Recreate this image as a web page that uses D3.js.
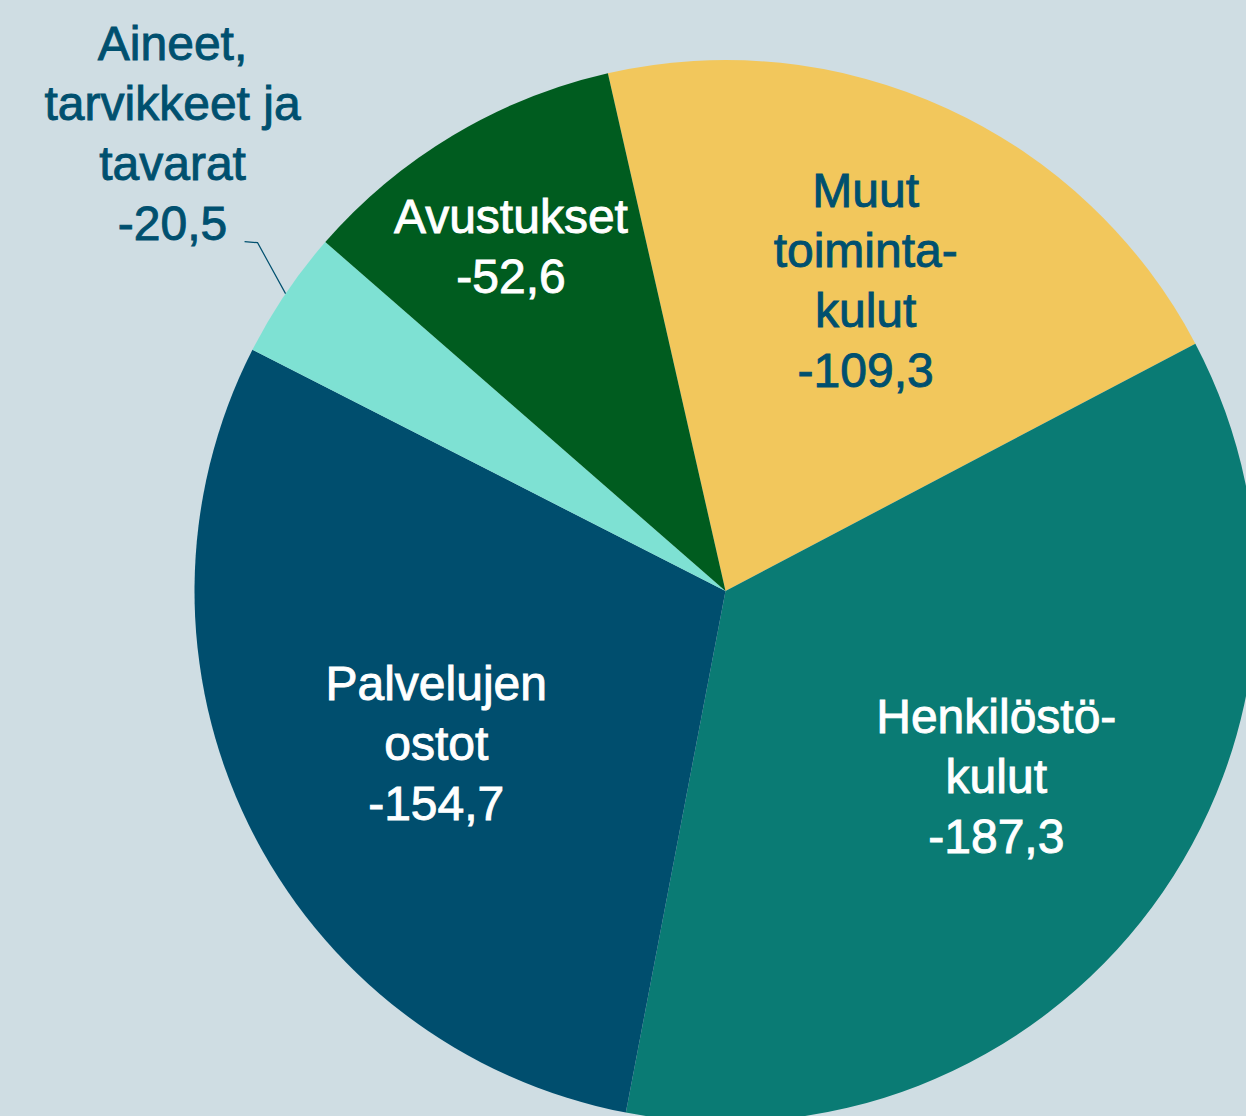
<!DOCTYPE html>
<html>
<head>
<meta charset="utf-8">
<script src="https://cdn.jsdelivr.net/npm/d3@7"></script>
<style>
  html, body { margin: 0; padding: 0; background: #cfdde3; }
  svg { display: block; }
</style>
</head>
<body>
<div id="chart"></div>
<script>
// data, clockwise from the top
var categories = ['Muut toimintakulut', 'Henkilöstökulut', 'Palvelujen ostot', 'Aineet, tarvikkeet ja tavarat', 'Avustukset'];
var values = [-109.3, -187.3, -154.7, -20.5, -52.6];
var labelLines = [
  ['Muut', 'toiminta-', 'kulut'],
  ['Henkilöstö-', 'kulut'],
  ['Palvelujen', 'ostot'],
  ['Aineet,', 'tarvikkeet ja', 'tavarat'],
  ['Avustukset']
];

var width = 1246;
var height = 1116;
var cx = 725.5;
var cy = 591;
var radius = 531;
var lineHeight = 60;

var colors = ['#f2c75c', '#0a7b74', '#004e6e', '#7ee1d3', '#005c1f'];
var textColors = ['#00506f', '#ffffff', '#ffffff', '#00506f', '#ffffff'];
// distance of each inside label from the centre, plus a small nudge
var labelRadius = [340, 337, 331, 0, 393];
var labelNudge = [[-2, -2], [0, -16], [8, 6], [0, 0], [-13, -8]];

var fmt = function(v) { return String(v.toFixed(1)).replace('.', ','); };

var svg = d3.select('#chart')
  .append('svg')
  .attr('width', width)
  .attr('height', height);

svg.append('rect')
  .attr('width', width)
  .attr('height', height)
  .attr('fill', '#cfdde3');

var g = svg.append('g')
  .attr('transform', 'translate(' + cx + ',' + cy + ')');

var startA = -12.8 * Math.PI / 180;

var pie = d3.pie()
  .value(function(d) { return Math.abs(d); })
  .sort(null)
  .startAngle(startA)
  .endAngle(startA + 2 * Math.PI);

var arcs = pie(values);

var arc = d3.arc()
  .innerRadius(0)
  .outerRadius(radius);

g.selectAll('path')
  .data(arcs)
  .enter()
  .append('path')
  .attr('d', arc)
  .attr('fill', function(d, i) { return colors[i]; });

function drawLabel(x, y, lines, color) {
  // x, y = centre of the text block
  var n = lines.length;
  var firstBase = y - (n - 1) * lineHeight / 2 + 17;
  var t = g.append('text')
    .attr('text-anchor', 'middle')
    .attr('font-family', '"Liberation Sans", Arial, sans-serif')
    .attr('font-size', 48)
    .attr('fill', color)
    .attr('stroke', color)
    .attr('stroke-width', 0.9);
  lines.forEach(function(l, k) {
    t.append('tspan')
      .attr('x', x)
      .attr('y', firstBase + k * lineHeight)
      .text(l);
  });
}

arcs.forEach(function(d, i) {
  var lines = labelLines[i].concat([fmt(values[i])]);
  if (labelRadius[i] > 0) {
    var c = d3.arc().innerRadius(labelRadius[i]).outerRadius(labelRadius[i]).centroid(d);
    drawLabel(c[0] + labelNudge[i][0], c[1] + labelNudge[i][1], lines, textColors[i]);
  } else {
    // small slice: label outside with a leader line
    var edge = d3.arc().innerRadius(radius).outerRadius(radius).centroid(d);
    var elbow = [edge[0] - 28, edge[1] - 51];
    var tail = [elbow[0] - 13, elbow[1] - 1];
    g.append('polyline')
      .attr('points', [edge, elbow, tail].map(function(p) { return p.join(','); }).join(' '))
      .attr('fill', 'none')
      .attr('stroke', '#00506f')
      .attr('stroke-width', 1.2);
    var bx = tail[0] - 72;
    var lastBase = tail[1] - 2;
    var blockCenter = lastBase - 17 - (lines.length - 1) * lineHeight / 2;
    drawLabel(bx, blockCenter, lines, textColors[i]);
  }
});
</script>
</body>
</html>
